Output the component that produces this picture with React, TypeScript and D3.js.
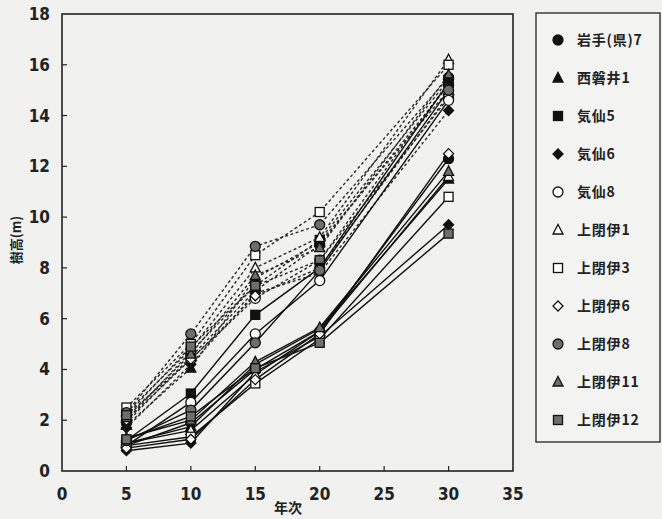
import React from "react";
import * as d3 from "d3";

const years = [5, 10, 15, 20, 30];
const seriesNames = ["岩手(県)7", "西磐井1", "気仙5", "気仙6", "気仙8", "上閉伊1", "上閉伊3", "上閉伊6", "上閉伊8", "上閉伊11", "上閉伊12"];
const markerShapes = ["circle", "triangle", "square", "diamond", "circle", "triangle", "square", "diamond", "circle", "triangle", "square"];
const markerFills = ["black", "black", "black", "black", "white", "white", "white", "white", "grey", "grey", "grey"];

// dashed-line series (upper group)
const dashedValues = [
  [1.9, 4.5, 7.1, 8.9, 15.2],
  [1.8, 4.05, 7.6, 9.0, 15.0],
  [2.0, 4.7, 7.3, 9.1, 15.4],
  [1.7, 4.2, 7.0, 7.8, 14.2],
  [2.2, 4.4, 6.8, 8.3, 14.7],
  [2.3, 4.8, 8.0, 9.2, 16.2],
  [2.5, 5.0, 8.5, 10.2, 16.0],
  [2.0, 4.4, 6.9, 8.0, 14.8],
  [2.3, 5.4, 8.85, 9.7, 15.5],
  [2.1, 4.6, 7.7, 8.8, 15.6],
  [2.2, 4.9, 7.3, 8.3, 15.3],
];
// solid-line series (lower group)
const solidValues = [
  [1.0, 1.9, 4.0, 5.5, 12.3],
  [1.1, 1.75, 4.2, 5.6, 11.5],
  [1.2, 3.05, 6.15, 8.0, 15.3],
  [0.8, 1.1, 3.9, 5.3, 9.7],
  [1.0, 2.7, 5.4, 7.5, 14.6],
  [1.1, 1.6, 3.8, 5.5, 11.6],
  [1.0, 1.35, 3.45, 5.2, 10.8],
  [0.9, 1.25, 3.6, 5.4, 12.5],
  [1.2, 2.4, 5.05, 7.9, 15.0],
  [1.3, 2.0, 4.3, 5.65, 11.8],
  [1.25, 2.15, 4.05, 5.05, 9.35],
];
const xTicks = [0, 5, 10, 15, 20, 25, 30, 35];
const yTicks = [0, 2, 4, 6, 8, 10, 12, 14, 16, 18];

const fillColor = (f: string) => (f === "black" ? "#111" : f === "white" ? "#fff" : "#6e6e6e");

function Marker({ shape, fill, x, y, s = 5 }: { shape: string; fill: string; x: number; y: number; s?: number }) {
  const fc = fillColor(fill);
  const stroke = "#111";
  const sw = 1.3;
  if (shape === "circle") return <circle cx={x} cy={y} r={s} fill={fc} stroke={stroke} strokeWidth={sw} />;
  if (shape === "square") return <rect x={x - s + 0.5} y={y - s + 0.5} width={2 * s - 1} height={2 * s - 1} fill={fc} stroke={stroke} strokeWidth={sw} />;
  if (shape === "triangle")
    return <path d={`M${x},${y - s - 0.5}L${x + s},${y + s - 1}L${x - s},${y + s - 1}Z`} fill={fc} stroke={stroke} strokeWidth={sw} />;
  return <path d={`M${x},${y - s}L${x + s},${y}L${x},${y + s}L${x - s},${y}Z`} fill={fc} stroke={stroke} strokeWidth={sw} />;
}

export default function App() {
  const W = 662, H = 519;
  const left = 62, right = 513, top = 14, bottom = 471;
  const x = d3.scaleLinear().domain([0, 35]).range([left, right]);
  const y = d3.scaleLinear().domain([0, 18]).range([bottom, top]);
  const line = d3.line<number>().x((_, i) => x(years[i])).y((d) => y(d));
  const font = "'Liberation Sans Narrow', 'DejaVu Sans Condensed', Arial, sans-serif";
  const jp = "'Noto Sans CJK JP', sans-serif";

  return (
    <svg width={W} height={H} style={{ position: "absolute", left: 0, top: 0 }}>
      <rect x={0} y={0} width={W} height={H} fill="#f1f1ef" />
      {/* lines */}
      {dashedValues.map((v, i) => (
        <path key={"d" + i} d={line(v) || ""} fill="none" stroke="#2a2a2a" strokeWidth={1.4} strokeDasharray="3,2.5" />
      ))}
      {solidValues.map((v, i) => (
        <path key={"s" + i} d={line(v) || ""} fill="none" stroke="#111" strokeWidth={1.4} />
      ))}
      {/* markers */}
      {dashedValues.map((v, i) =>
        v.map((d, j) => <Marker key={`dm${i}-${j}`} shape={markerShapes[i]} fill={markerFills[i]} x={x(years[j])} y={y(d)} />)
      )}
      {solidValues.map((v, i) =>
        v.map((d, j) => <Marker key={`sm${i}-${j}`} shape={markerShapes[i]} fill={markerFills[i]} x={x(years[j])} y={y(d)} />)
      )}
      {/* frame */}
      <rect x={left} y={top} width={right - left} height={bottom - top} fill="none" stroke="#222" strokeWidth={1.6} />
      {/* ticks */}
      {xTicks.map((t) => (
        <g key={"xt" + t}>
          {t > 0 && t < 35 && <line x1={x(t)} x2={x(t)} y1={bottom} y2={bottom - 5} stroke="#222" strokeWidth={1.2} />}
          <text x={x(t)} y={bottom + 29} textAnchor="middle" fontFamily={font} fontWeight="bold" fontSize={17} fill="#222">
            {t}
          </text>
        </g>
      ))}
      {yTicks.map((t) => (
        <g key={"yt" + t}>
          {t > 0 && t < 18 && <line x1={left} x2={left + 5} y1={y(t)} y2={y(t)} stroke="#222" strokeWidth={1.2} />}
          <text x={50} y={y(t) + 6} textAnchor="end" fontFamily={font} fontWeight="bold" fontSize={17} fill="#222">
            {t}
          </text>
        </g>
      ))}
      <text x={288} y={513} textAnchor="middle" fontFamily={jp} fontWeight="bold" fontSize={14} fill="#222">
        年次
      </text>
      <text transform="translate(21,240) rotate(-90)" textAnchor="middle" fontFamily={jp} fontWeight="bold" fontSize={13} fill="#222">
        樹高(m)
      </text>
      {/* legend */}
      <rect x={536} y={13} width={124} height={429} fill="#f3f3f1" stroke="#222" strokeWidth={1.3} />
      {seriesNames.map((n, i) => {
        const ly = 40 + i * 38;
        return (
          <g key={"lg" + i}>
            <Marker shape={markerShapes[i]} fill={markerFills[i]} x={558} y={ly} />
            <text x={577} y={ly + 5} fontFamily={jp} fontWeight="bold" fontSize={14} letterSpacing={0.8} fill="#222">
              {n}
            </text>
          </g>
        );
      })}
    </svg>
  );
}
